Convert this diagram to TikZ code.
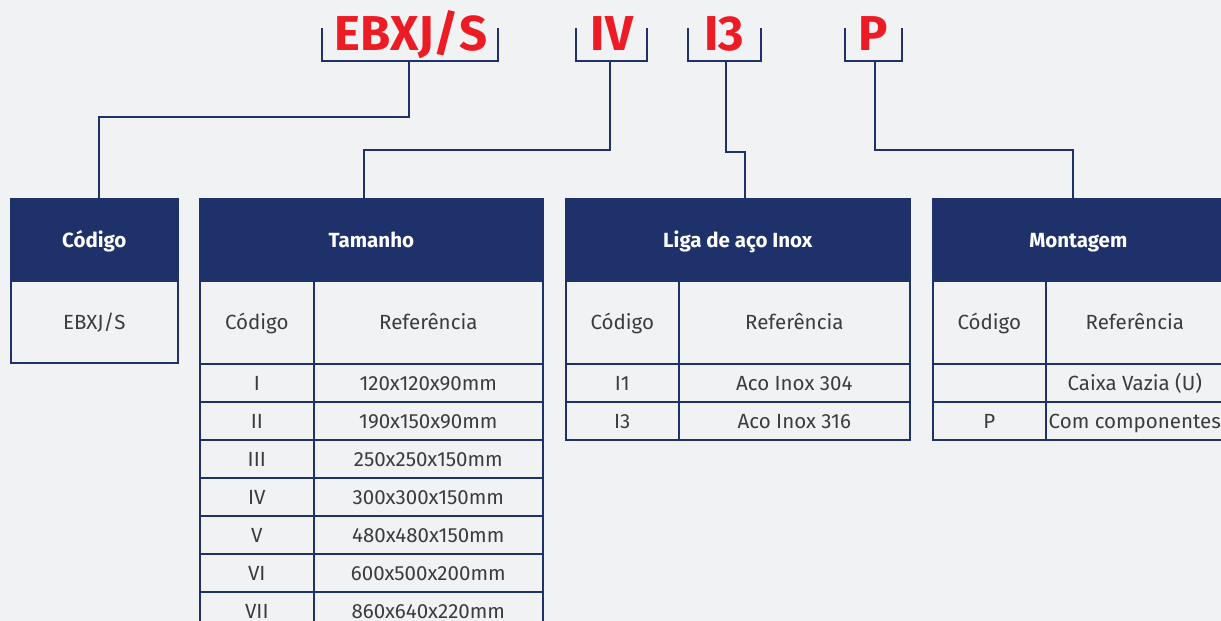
\documentclass[tikz,border=0pt]{standalone}
\usepackage{fontspec}
\setmainfont{Fira Sans}
\definecolor{navy}{HTML}{1E316B}
\definecolor{codered}{HTML}{ED1C24}
\definecolor{bggray}{HTML}{F1F2F4}
\definecolor{textgray}{HTML}{3C3C3C}
\begin{document}
\begin{tikzpicture}[x=1pt, y=-1pt,
		code_style/.style={text=codered, font=\fontsize{49}{49}\selectfont\bfseries, inner sep=0pt, anchor=base},
		bracket_style/.style={draw=navy, line width=2.2pt},
		edge_style/.style={draw=navy, line width=2.2pt},
		head_style/.style={rectangle, draw=navy, fill=navy, text=white, font=\fontsize{20.5}{20.5}\selectfont\bfseries, text height=14.5pt, text depth=0pt, minimum height=82pt, inner sep=0pt, line width=1.6pt, anchor=north west},
		cell_style/.style={rectangle, draw=navy, text=textgray, font=\fontsize{20.5}{20.5}\selectfont, text height=14.5pt, text depth=0pt, minimum height=38pt, inner sep=0pt, line width=1.6pt, anchor=north west}]
		
		\useasboundingbox (0,0) rectangle (1221,621);
		\fill[bggray] (0,0) rectangle (1221,621);
		
		% codes on top
		\node[code_style] (c_ebxj) at (411,50) {EBXJ/S};
		\node[code_style] (c_iv) at (612,50) {IV};
		\node[code_style] (c_i3) at (724,50) {I3};
		\node[code_style] (c_p) at (873,50) {P};
		
		\foreach \l/\r in {322/498, 576/647, 688/761, 845/902}
			\draw[bracket_style] (\l,28) |- (\r,61) -- (\r,28);
		
		\coordinate (s1) at (409,61);
		\coordinate (s2) at (610,61);
		\coordinate (s3) at (726,61);
		\coordinate (s4) at (875,61);
		
		% tables
		\node[head_style, minimum width=167pt] (codigo) at (10,198) {Código};
		\node[cell_style, minimum width=167pt, minimum height=82pt] (codigo_val) at (10,280) {EBXJ/S};
		
		\node[head_style, minimum width=343pt] (tamanho) at (199,198) {Tamanho};
		\node[cell_style, minimum width=114pt, minimum height=83pt] (tam_cod) at (199,280) {Código};
		\node[cell_style, minimum width=229pt, minimum height=83pt] (tam_ref) at (313,280) {Referência};
		\foreach \c/\r [count=\i from 0] in {I/120x120x90mm, II/190x150x90mm, III/250x250x150mm, IV/300x300x150mm, V/480x480x150mm, VI/600x500x200mm, VII/860x640x220mm}{
			\node[cell_style, minimum width=114pt] (tam_c\i) at (199,363+38*\i) {\c};
			\node[cell_style, minimum width=229pt] (tam_r\i) at (313,363+38*\i) {\r};
		}
		
		\node[head_style, minimum width=344pt] (liga) at (565,198) {Liga de aço Inox};
		\node[cell_style, minimum width=113pt, minimum height=83pt] (liga_cod) at (565,280) {Código};
		\node[cell_style, minimum width=231pt, minimum height=83pt] (liga_ref) at (678,280) {Referência};
		\foreach \c/\r [count=\i from 0] in {I1/Aco Inox 304, I3/Aco Inox 316}{
			\node[cell_style, minimum width=113pt] (liga_c\i) at (565,363+38*\i) {\c};
			\node[cell_style, minimum width=231pt] (liga_r\i) at (678,363+38*\i) {\r};
		}
		
		\node[head_style, minimum width=291pt] (montagem) at (932,198) {Montagem};
		\node[cell_style, minimum width=113pt, minimum height=83pt] (mont_cod) at (932,280) {Código};
		\node[cell_style, minimum width=178pt, minimum height=83pt] (mont_ref) at (1045,280) {Referência};
		\foreach \c/\r [count=\i from 0] in {/Caixa Vazia (U), P/Com componentes}{
			\node[cell_style, minimum width=113pt] (mont_c\i) at (932,363+38*\i) {\c};
			\node[cell_style, minimum width=178pt] (mont_r\i) at (1045,363+38*\i) {\r};
		}
		
		% connectors
		\draw[edge_style] (s1) -- (409,117) -| ([xshift=4.5pt]codigo.north);
		\draw[edge_style] (s2) -- (610,150) -| ([xshift=-7.5pt]tamanho.north);
		\draw[edge_style] (s3) -- (726,152) -| ([xshift=7pt]liga.north);
		\draw[edge_style] (s4) -- (875,150) -| ([xshift=-5.5pt]montagem.north);
		
\end{tikzpicture}
\end{document}
